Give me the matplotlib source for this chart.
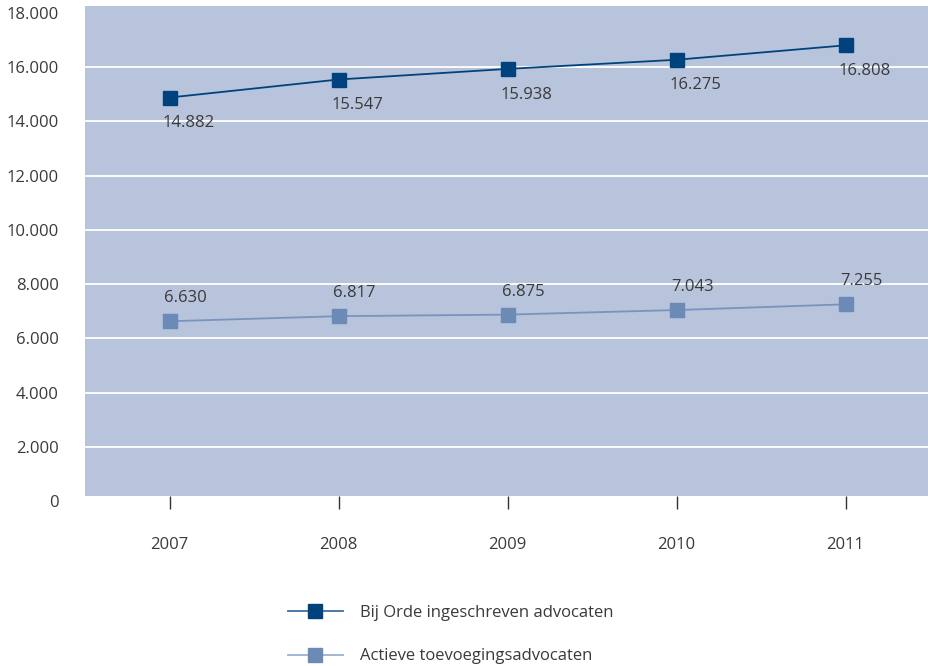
import matplotlib
matplotlib.use("Agg")
import matplotlib.pyplot as plt
from matplotlib.lines import Line2D
from matplotlib.patches import Rectangle

# --- data ---
years = ["2007", "2008", "2009", "2010", "2011"]
ingeschreven = [14882, 15547, 15938, 16275, 16808]
toevoeging = [6630, 6817, 6875, 7043, 7255]
y_ticks = [0, 2000, 4000, 6000, 8000, 10000, 12000, 14000, 16000, 18000]

label1 = "Bij Orde ingeschreven advocaten"
label2 = "Actieve toevoegingsadvocaten"

# --- style ---
plt.rcParams['font.family'] = ['Open Sans', 'DejaVu Sans']
TEXT = "#3a3a3a"
BG = "#b8c4dc"
DARK = "#00437c"
LIGHT = "#6b8bb6"
LIGHT_LINE = "#7894bd"


def fmt(v):
    return f"{v:,}".replace(",", ".")


fig = plt.figure(figsize=(9.29, 6.66), dpi=100)
W, H = 929, 666
ax = fig.add_axes([85 / W, (H - 501) / H, (930 - 85) / W, (501 - 13) / H])
ax.set_facecolor("none")
for s in ax.spines.values():
    s.set_visible(False)

x = list(range(len(years)))
ax.set_xlim(-0.5, 4.5)
ax.set_ylim(0, 18000)

# achtergrondvlak (iets verschoven t.o.v. de schaal, zoals in het origineel)
ax.add_patch(Rectangle((-0.5, 185), 5.1, 18258 - 185, facecolor=BG,
                       edgecolor="none", zorder=0, clip_on=False))
ax.hlines(y_ticks[1:-1], -0.5, 4.6, colors="white", linewidth=1.3,
          zorder=1, clip_on=False)

ax.plot(x, ingeschreven, color=DARK, linewidth=1.3, marker="s",
        markersize=10, markerfacecolor=DARK, markeredgecolor=DARK, zorder=3)
ax.plot(x, toevoeging, color=LIGHT_LINE, linewidth=1.3, marker="s",
        markersize=10, markerfacecolor=LIGHT, markeredgecolor=LIGHT, zorder=3)

for xi, v in zip(x, ingeschreven):
    ax.annotate(fmt(v), (xi, v), xytext=(-5, -18.5), textcoords="offset points",
                ha="left", va="center", fontsize=12, color=TEXT)
for xi, v in zip(x, toevoeging):
    ax.annotate(fmt(v), (xi, v), xytext=(-4, 16.5), textcoords="offset points",
                ha="left", va="center", fontsize=12, color=TEXT)

ax.set_xticks(x)
ax.set_xticklabels(years)
ax.spines['bottom'].set_position(('data', 185))
ax.tick_params(axis="x", direction="out", length=9.5, width=1, color="#333333",
               pad=20, labelsize=12, labelcolor=TEXT)
ax.set_yticks(y_ticks)
ax.set_yticklabels([fmt(v) for v in y_ticks])
ax.tick_params(axis="y", length=0, pad=19, labelsize=12, labelcolor=TEXT)

handles = [
    Line2D([], [], color="#3d6ea3", linewidth=1.3, marker="s", markersize=10,
           markerfacecolor=DARK, markeredgecolor=DARK),
    Line2D([], [], color="#9bb0d0", linewidth=1.3, marker="s", markersize=10,
           markerfacecolor=LIGHT, markeredgecolor=LIGHT),
]
fig.legend(handles, [label1, label2], loc="upper left",
           bbox_to_anchor=(288 / W, 1 - 605 / H), frameon=False, fontsize=12,
           handlelength=3.3, handletextpad=1.0, labelspacing=1.65,
           borderpad=0, borderaxespad=0, labelcolor=TEXT)

fig.savefig("out.png", dpi=100)
